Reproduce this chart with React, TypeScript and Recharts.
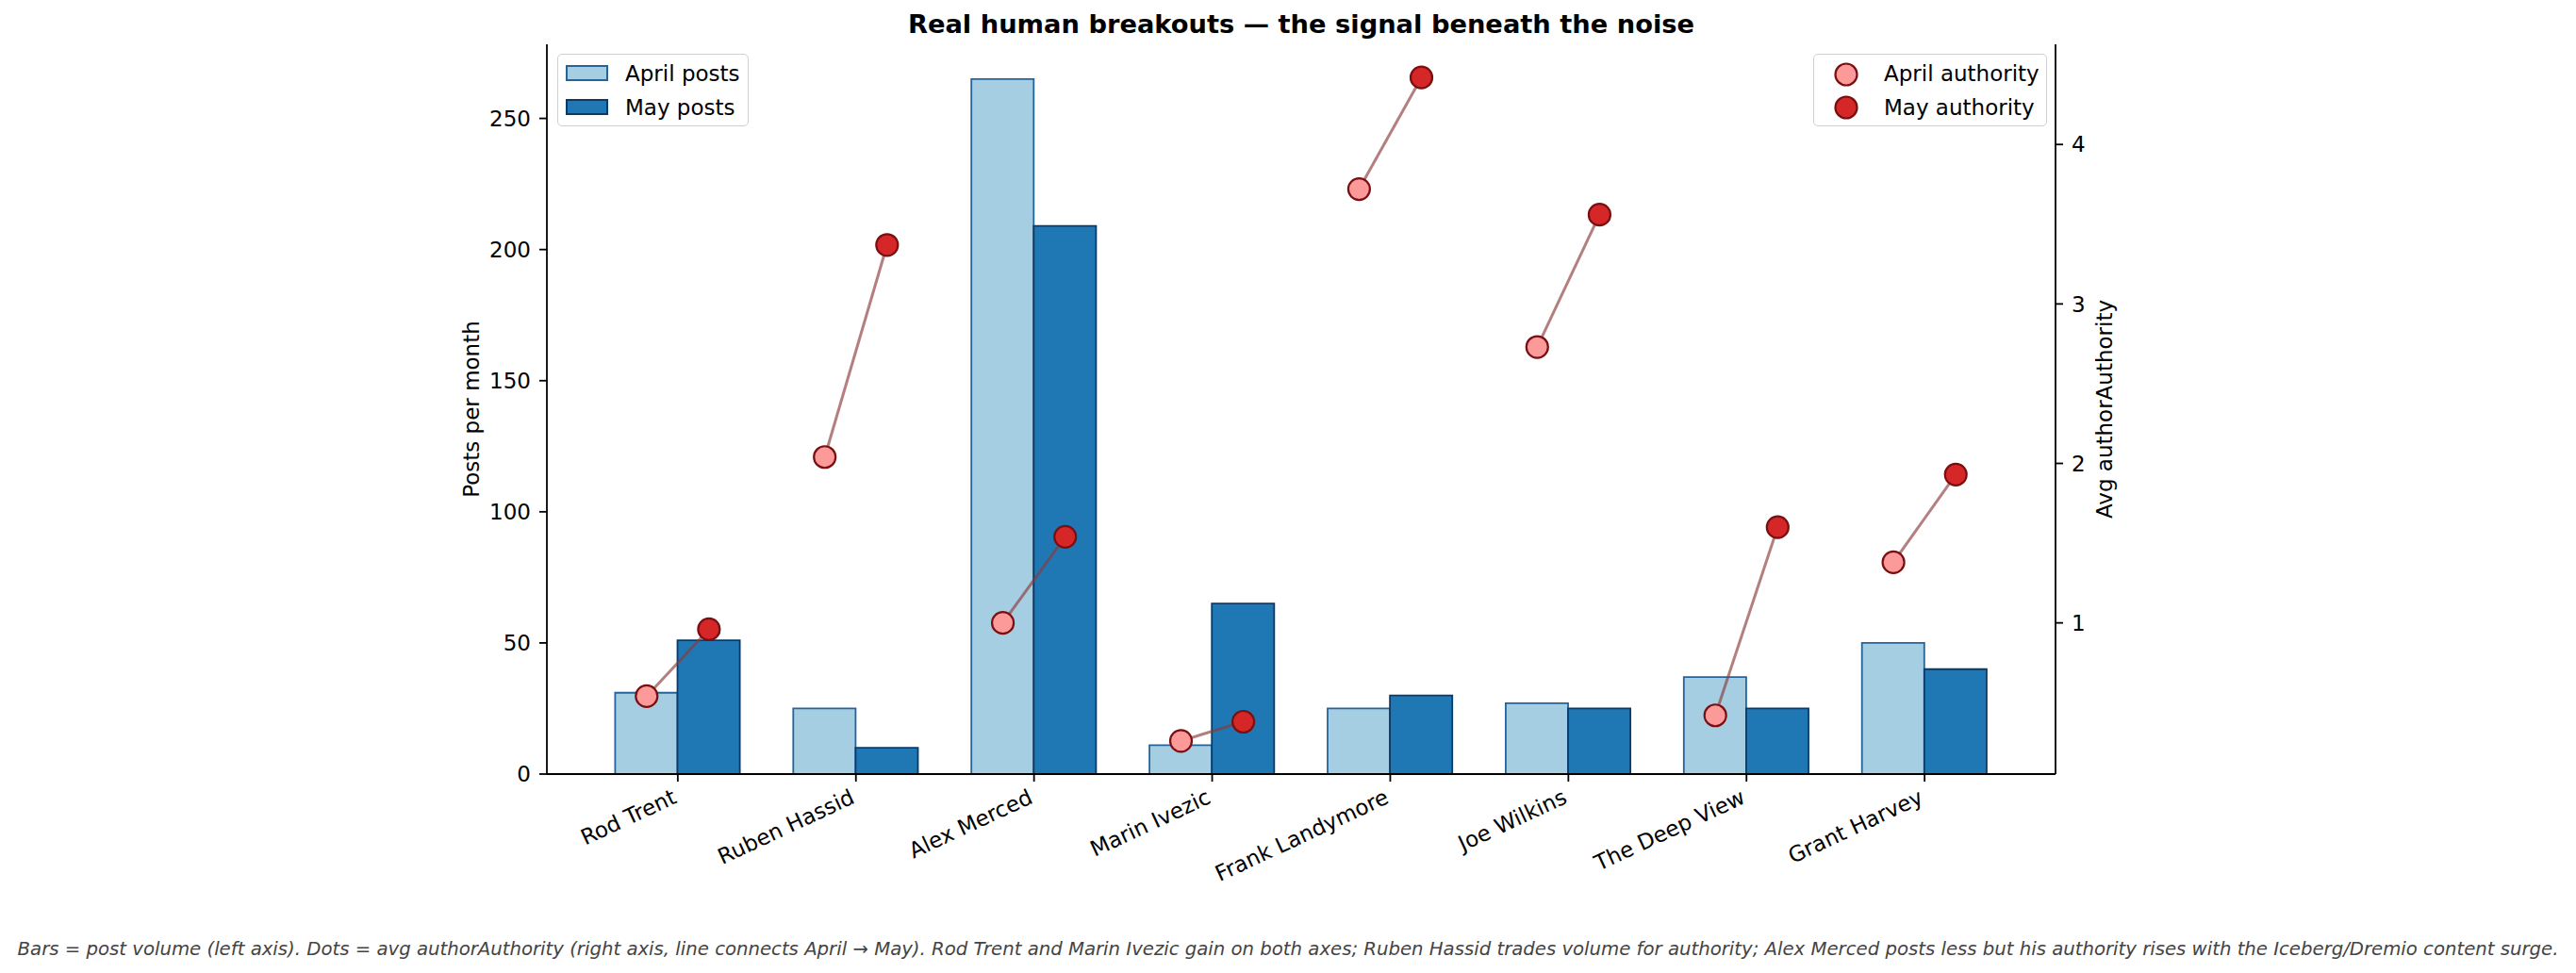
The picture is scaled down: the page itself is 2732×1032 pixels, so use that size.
import React from 'react';
import { ComposedChart, Bar, Scatter, XAxis, YAxis } from 'recharts';

const authors = ['Rod Trent', 'Ruben Hassid', 'Alex Merced', 'Marin Ivezic', 'Frank Landymore', 'Joe Wilkins', 'The Deep View', 'Grant Harvey'];
const aprilPosts = [31, 25, 265, 11, 25, 27, 37, 50];
const mayPosts = [51, 10, 209, 65, 30, 25, 25, 40];
const aprilAuthority = [0.54, 2.04, 1.0, 0.26, 3.72, 2.73, 0.42, 1.38];
const mayAuthority = [0.96, 3.37, 1.54, 0.38, 4.42, 3.56, 1.6, 1.93];
const postTicks = [0, 50, 100, 150, 200, 250];
const authorityTicks = [1, 2, 3, 4];
const barOffset = 0.175;

const TITLE = 'Real human breakouts — the signal beneath the noise';
const CAPTION =
  'Bars = post volume (left axis). Dots = avg authorAuthority (right axis, line connects April → May). Rod Trent and Marin Ivezic gain on both axes; Ruben Hassid trades volume for authority; Alex Merced posts less but his authority rises with the Iceberg/Dremio content surge.';

const barData = authors.map((name, i) => ({ name, april: aprilPosts[i], may: mayPosts[i] }));
const aprilDots = authors.map((_, i) => ({ x: i - barOffset, y: aprilAuthority[i] }));
const mayDots = authors.map((_, i) => ({ x: i + barOffset, y: mayAuthority[i] }));
const links = authors.map((_, i) => [aprilDots[i], mayDots[i]]);

const postMax = Math.max(...aprilPosts, ...mayPosts) * 1.05;
const allAuth = [...aprilAuthority, ...mayAuthority];
const aMin = Math.min(...allAuth);
const aMax = Math.max(...allAuth);
const aSpan = aMax - aMin;
const authDomain = [aMin - 0.05 * aSpan, aMax + 0.05 * aSpan];
const xMargin = 0.735;
const xDomain = [-xMargin, authors.length - 1 + xMargin];

const FONT = '"DejaVu Sans", sans-serif';
const W = 2732;
const H = 1032;
const PLOT_LEFT = 580;
const PLOT_RIGHT = 2180;
const plotW = PLOT_RIGHT - PLOT_LEFT;
const unitPx = plotW / (xDomain[1] - xDomain[0]);
const catPad = (plotW - unitPx * authors.length) / 2;
const FS = 23;

const XTick = (props: any) => {
  const { x, y, payload } = props;
  return (
    <g transform={`translate(${x},${y + 22})`}>
      <text textAnchor="end" transform="rotate(-25)" fontSize={FS} fontFamily={FONT} fill="#000">
        {payload.value}
      </text>
    </g>
  );
};

const Dot = (fill: string) => (props: any) => {
  const { cx, cy } = props;
  return <circle cx={cx} cy={cy} r={11.5} fill={fill} stroke="#7a0f12" strokeWidth={2.2} />;
};

const NoShape = () => <g />;

const legendBox: React.CSSProperties = {
  position: 'absolute',
  border: '1.5px solid #d0d0d0',
  borderRadius: 5,
  background: 'rgba(255,255,255,0.85)',
  boxSizing: 'border-box',
};

const legendText: React.CSSProperties = {
  position: 'absolute',
  fontFamily: FONT,
  fontSize: FS,
  color: '#000',
  whiteSpace: 'nowrap',
  transform: 'translateY(-50%)',
  lineHeight: 1,
};

export default function App() {
  return (
    <div style={{ position: 'absolute', left: 0, top: 0, width: W, height: H, background: '#fff' }}>
      <ComposedChart
        width={W}
        height={H}
        data={barData}
        margin={{ top: 47, right: 0, bottom: 0, left: 0 }}
        barGap={0}
      >
        <XAxis
          xAxisId="cat"
          type="category"
          dataKey="name"
          padding={{ left: catPad, right: catPad }}
          interval={0}
          height={211}
          tick={<XTick />}
          tickSize={8}
          tickMargin={0}
          axisLine={{ stroke: '#000', strokeWidth: 1.8 }}
          tickLine={{ stroke: '#000', strokeWidth: 1.8 }}
        />
        <XAxis
          xAxisId="num"
          type="number"
          dataKey="x"
          domain={xDomain}
          allowDataOverflow
          hide
          height={211}
        />
        <YAxis
          yAxisId="left"
          type="number"
          domain={[0, postMax]}
          allowDataOverflow
          ticks={postTicks}
          width={PLOT_LEFT}
          tickSize={8}
          tickMargin={9}
          tick={{ fontSize: FS, fontFamily: FONT, fill: '#000' }}
          axisLine={{ stroke: '#000', strokeWidth: 1.8 }}
          tickLine={{ stroke: '#000', strokeWidth: 1.8 }}
        />
        <YAxis
          yAxisId="right"
          orientation="right"
          type="number"
          domain={authDomain}
          allowDataOverflow
          ticks={authorityTicks}
          width={W - PLOT_RIGHT}
          tickSize={8}
          tickMargin={9}
          tick={{ fontSize: FS, fontFamily: FONT, fill: '#000' }}
          axisLine={{ stroke: '#000', strokeWidth: 1.8 }}
          tickLine={{ stroke: '#000', strokeWidth: 1.8 }}
        />
        <Bar xAxisId="cat" yAxisId="left" dataKey="april" barSize={unitPx * 0.35} fill="#a6cee3" stroke="#24649a" strokeWidth={1.8} isAnimationActive={false} />
        <Bar xAxisId="cat" yAxisId="left" dataKey="may" barSize={unitPx * 0.35} fill="#1f78b4" stroke="#0a3a6a" strokeWidth={1.8} isAnimationActive={false} />
        {links.map((pts, i) => (
          <Scatter
            key={`link-${i}`}
            xAxisId="num"
            yAxisId="right"
            data={pts}
            dataKey="y"
            line={{ stroke: '#8b3a3a', strokeOpacity: 0.65, strokeWidth: 3 }}
            shape={NoShape}
            isAnimationActive={false}
          />
        ))}
        <Scatter xAxisId="num" yAxisId="right" data={aprilDots} dataKey="y" shape={Dot('#fb9a99')} isAnimationActive={false} />
        <Scatter xAxisId="num" yAxisId="right" data={mayDots} dataKey="y" shape={Dot('#d62728')} isAnimationActive={false} />
      </ComposedChart>

      {/* Title */}
      <div
        style={{
          position: 'absolute', left: 1380, top: 26, transform: 'translate(-50%,-50%)',
          fontFamily: FONT, fontWeight: 'bold', fontSize: 27.3, whiteSpace: 'nowrap', color: '#000', lineHeight: 1,
        }}
      >
        {TITLE}
      </div>

      {/* Axis labels */}
      <div
        style={{
          position: 'absolute', left: 500, top: 434, transform: 'translate(-50%,-50%) rotate(-90deg)',
          fontFamily: FONT, fontSize: FS, whiteSpace: 'nowrap', color: '#000', lineHeight: 1,
        }}
      >
        Posts per month
      </div>
      <div
        style={{
          position: 'absolute', left: 2232, top: 434, transform: 'translate(-50%,-50%) rotate(-90deg)',
          fontFamily: FONT, fontSize: FS, whiteSpace: 'nowrap', color: '#000', lineHeight: 1,
        }}
      >
        Avg authorAuthority
      </div>

      {/* Left legend */}
      <div style={{ ...legendBox, left: 591, top: 57, width: 203, height: 77 }}>
        <div style={{ position: 'absolute', left: 8, top: 11, width: 45, height: 17, background: '#a6cee3', border: '2px solid #24649a', boxSizing: 'border-box' }} />
        <div style={{ ...legendText, left: 71, top: 20 }}>April posts</div>
        <div style={{ position: 'absolute', left: 8, top: 47, width: 45, height: 17, background: '#1f78b4', border: '2px solid #0a3a6a', boxSizing: 'border-box' }} />
        <div style={{ ...legendText, left: 71, top: 56 }}>May posts</div>
      </div>

      {/* Right legend */}
      <div style={{ ...legendBox, left: 1923, top: 57, width: 248, height: 77 }}>
        <svg style={{ position: 'absolute', left: 0, top: 0 }} width={70} height={77}>
          <circle cx={34} cy={21} r={11.5} fill="#fb9a99" stroke="#7a0f12" strokeWidth={2.2} />
          <circle cx={34} cy={56} r={11.5} fill="#d62728" stroke="#7a0f12" strokeWidth={2.2} />
        </svg>
        <div style={{ ...legendText, left: 74, top: 20 }}>April authority</div>
        <div style={{ ...legendText, left: 74, top: 56 }}>May authority</div>
      </div>

      {/* Caption */}
      <div
        style={{
          position: 'absolute', left: 1366, top: 1007, transform: 'translate(-50%,-50%)',
          fontFamily: FONT, fontStyle: 'italic', fontSize: 19.7, whiteSpace: 'nowrap', color: '#444', lineHeight: 1,
        }}
      >
        {CAPTION}
      </div>
    </div>
  );
}
